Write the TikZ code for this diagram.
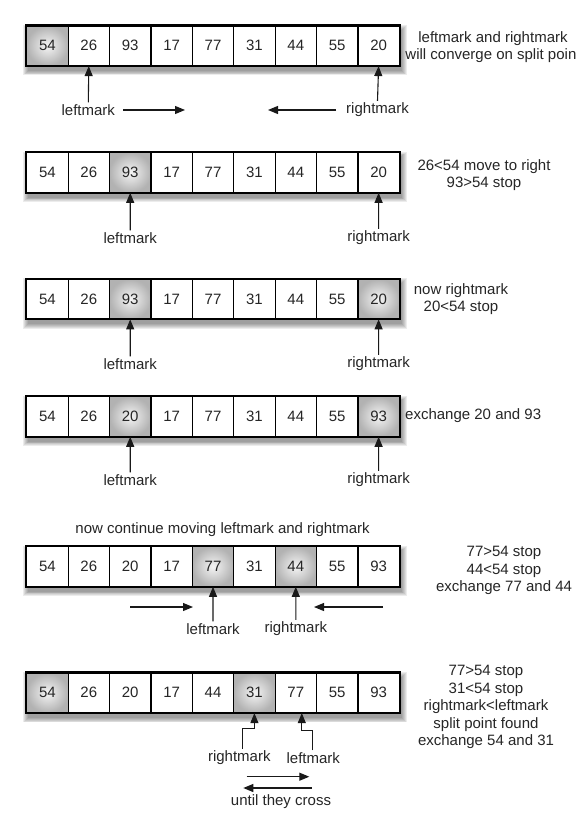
\documentclass[tikz,border=0pt]{standalone}
\usepackage{fontspec}
\setmainfont{Liberation Sans}
\usetikzlibrary{arrows.meta}
\tikzset{
  cell/.style={draw=black, line width=1.2pt, minimum width=41.4pt, minimum height=39.5pt, inner sep=0pt, fill=white, font=\fontsize{15}{18}\selectfont, text=black!85},
  hi/.style={cell, shading=radial, inner color=gray!8, outer color=gray!60},
  lbl/.style={font=\fontsize{15}{18}\selectfont, text=black!85, inner sep=2pt},
  note/.style={lbl, align=center, font=\fontsize{15}{17.5}\selectfont},
  arr/.style={draw=black!90, line width=1.1pt, -{Triangle[length=10pt,width=8pt]}},
  backbox/.style={fill=white, draw=none, minimum width=372.6pt, minimum height=39.5pt, inner sep=0pt, anchor=north west},
  shadowlayer/.style={fill=black, fill opacity=0.075, draw=none},
}
\newcommand\arrayrow[3]{%
  \foreach \k in {1,...,6} {
    \fill[shadowlayer] ({26.7+2-\k*0.9},{#2+4.5-\k*0.9}) rectangle ({26.7+372.6+2+\k*0.9},{#2+39.5+4.5+\k*0.9});
  }
  \node[backbox] (#1) at (26.7,#2) {};
  \foreach \v/\s [count=\i] in {#3} {
    \node[\s] (#1-\i) at ({26.7+(\i-0.5)*41.4},{#2+19.75}) {\v};
  }
  \draw[line width=1.9pt] (#1-1.north west) rectangle (#1-9.south east);
}
\begin{document}
\begin{tikzpicture}[x=1pt,y=-1pt]
\useasboundingbox[fill=white] (0,0) rectangle (575,821);

% ---------- row 1
\arrayrow{r1}{26}{54/hi,26/cell,93/cell,17/cell,77/cell,31/cell,44/cell,55/cell,20/cell}
\node[lbl] (l1) at (88.3,110) {leftmark};
\node[lbl] (rm1) at (377.5,110) {rightmark};
\draw[arr] (l1.north) -- (r1-2.south);
\draw[arr] (rm1.north) -- (r1-9.south);
\coordinate (a1r) at (185,110);
\coordinate (a1l) at (268,110);
\draw[arr] ([xshift=6pt]l1.east) -- (a1r);
\draw[arr] ([xshift=-8pt]rm1.west) -- (a1l);
\node[note] (n1) at (493,47) {leftmark and rightmark\\will converge on split point};

% ---------- row 2
\arrayrow{r2}{152.7}{54/cell,26/cell,93/hi,17/cell,77/cell,31/cell,44/cell,55/cell,20/cell}
\node[lbl] (l2) at (130.2,238) {leftmark};
\node[lbl] (rm2) at (378.6,238) {rightmark};
\draw[arr] (l2.north) -- (r2-3.south);
\draw[arr] (rm2.north) -- (r2-9.south);
\node[note] (n2) at (484,175) {26<54 move to right\\93>54 stop};

% ---------- row 3
\arrayrow{r3}{279.3}{54/cell,26/cell,93/hi,17/cell,77/cell,31/cell,44/cell,55/cell,20/hi}
\node[lbl] (l3) at (130.2,364) {leftmark};
\node[lbl] (rm3) at (378.6,364) {rightmark};
\draw[arr] (l3.north) -- (r3-3.south);
\draw[arr] (rm3.north) -- (r3-9.south);
\node[note] (n3) at (461,299) {now rightmark\\20<54 stop};

% ---------- row 4
\arrayrow{r4}{396.7}{54/cell,26/cell,20/hi,17/cell,77/cell,31/cell,44/cell,55/cell,93/hi}
\node[lbl] (l4) at (130.2,480) {leftmark};
\node[lbl] (rm4) at (378.6,480) {rightmark};
\draw[arr] (l4.north) -- (r4-3.south);
\draw[arr] (rm4.north) -- (r4-9.south);
\node[lbl, anchor=west] (n4) at (403,416) {exchange 20 and 93};

% ---------- row 5
\node[lbl] (t5) at (222.6,530) {now continue moving leftmark and rightmark};
\arrayrow{r5}{546.7}{54/cell,26/cell,20/cell,17/cell,77/hi,31/cell,44/hi,55/cell,93/cell}
\node[lbl] (l5) at (213,629) {leftmark};
\node[lbl] (rm5) at (295.8,629) {rightmark};
\draw[arr] (l5.north) -- (r5-5.south);
\draw[arr] (rm5.north) -- (r5-7.south);
\coordinate (a5s) at (130,607);
\coordinate (a5e) at (193,607);
\coordinate (b5s) at (383,607);
\coordinate (b5e) at (314,607);
\draw[arr] (a5s) -- (a5e);
\draw[arr] (b5s) -- (b5e);
\node[note] (n5) at (504,570.5) {77>54 stop\\44<54 stop\\exchange 77 and 44};

% ---------- row 6
\arrayrow{r6}{673}{54/hi,26/cell,20/cell,17/cell,44/cell,31/hi,77/cell,55/cell,93/cell}
\node[lbl] (rm6) at (239.3,758) {rightmark};
\node[lbl] (l6) at (313.3,758) {leftmark};
\draw[arr] ([xshift=3pt]rm6.north) -- ++(0,-20) -| (r6-6.south);
\draw[arr] ([xshift=-1pt]l6.north) -- ++(0,-20) -| ([xshift=6pt]r6-7.south);
\coordinate (c6s) at (246.7,776.7);
\coordinate (c6e) at (309.3,776.7);
\coordinate (d6s) at (311.7,788);
\coordinate (d6e) at (243.3,788);
\draw[arr] (c6s) -- (c6e);
\draw[arr] (d6s) -- (d6e);
\node[lbl] (u6) at (281,802) {until they cross};
\node[note] (n6) at (486,707) {77>54 stop\\31<54 stop\\rightmark<leftmark\\split point found\\exchange 54 and 31};
\end{tikzpicture}
\end{document}
